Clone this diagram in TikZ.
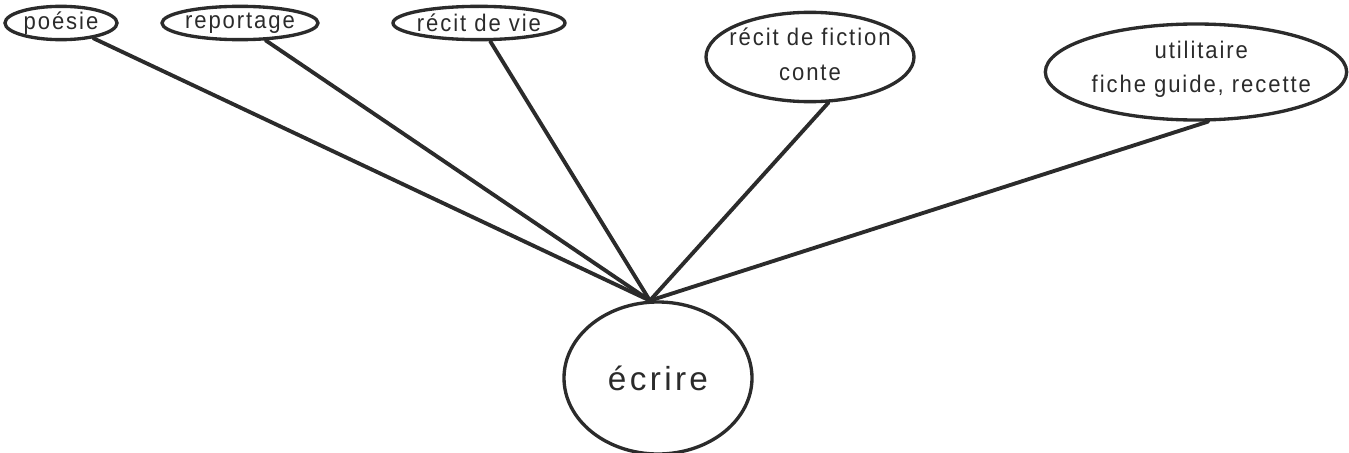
\documentclass[tikz,border=0pt]{standalone}
\usepackage{fontspec}
\setmainfont[LetterSpace=8,FakeStretch=0.92]{Liberation Sans}
\newfontfamily\bigfont[LetterSpace=10]{Liberation Sans}
\usetikzlibrary{shapes.geometric}
\definecolor{ink}{HTML}{2B2B2B}
\begin{document}
\begin{tikzpicture}[x=0.75pt,y=-0.75pt,
  bub/.style={draw=ink, ellipse, line width=2.5pt, inner sep=0pt},
  link/.style={draw=ink, line width=2.9pt, line cap=round},
  lbl/.style={font=\fontsize{18}{26}\selectfont, text=ink, align=center, inner sep=0pt}]
\useasboundingbox (0,0) rectangle (1349,453);
% bubbles
\node[bub, minimum width=84pt, minimum height=25pt] (poesie) at (61,23) {};
\node[bub, minimum width=117pt, minimum height=25pt] (reportage) at (240,23) {};
\node[bub, minimum width=129pt, minimum height=25pt] (vie) at (479,23) {};
\node[bub, minimum width=156pt, minimum height=67pt] (fiction) at (810,57) {};
\node[bub, minimum width=226pt, minimum height=72pt] (util) at (1196,72) {};
\node[bub, minimum width=141pt, minimum height=114pt] (ecrire) at (658,378) {};
% labels
\node[lbl] (tpoesie) at (poesie.center) {poésie};
\node[lbl] (treportage) at (reportage.center) {reportage};
\node[lbl] (tvie) at (vie.center) {récit de vie};
\node[lbl] (tfiction) at ([yshift=2pt]fiction.center) {récit de fiction\\conte};
\node[lbl] (tutil) at ([xshift=4pt,yshift=2pt]util.center) {utilitaire\\fiche guide, recette};
\node[lbl, font=\bigfont\fontsize{25}{30}\selectfont] (tecrire) at (ecrire.center) {écrire};
% connectors
\coordinate (hub) at (ecrire.96);
\draw[link] (hub) -- (poesie);
\draw[link] (hub) -- (reportage);
\draw[link] (hub) -- (vie);
\draw[link] (hub) -- (fiction.-68);
\draw[link] (hub) -- (util.-76);
\end{tikzpicture}
\end{document}
